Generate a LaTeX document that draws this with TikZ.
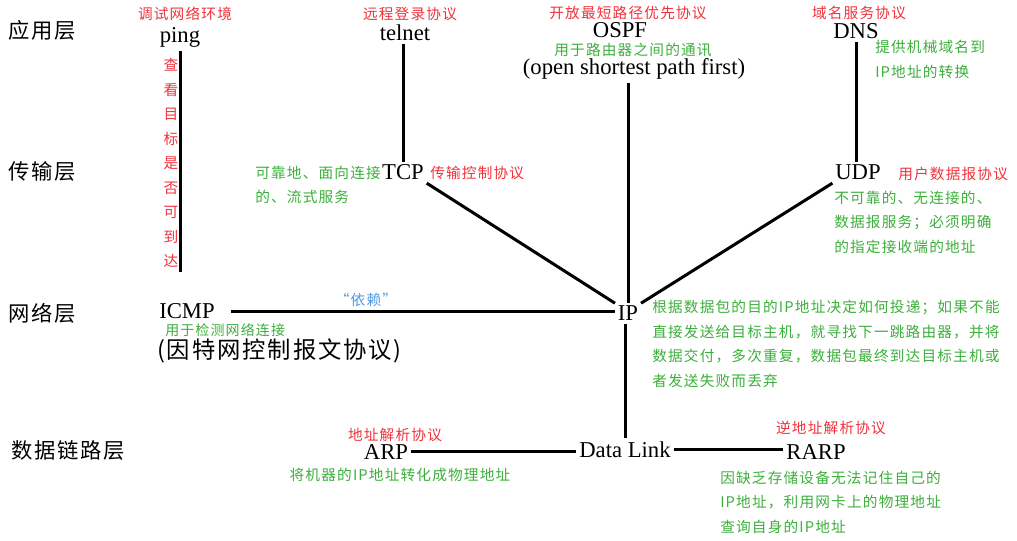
\documentclass[tikz,border=0pt]{standalone}
\usepackage{fontspec}
\setmainfont{Liberation Serif}
\newfontfamily\cjk[LetterSpace=8]{Noto Sans CJK SC}
\usetikzlibrary{calc}
\definecolor{myred}{RGB}{240,50,60}
\definecolor{mygreen}{RGB}{60,175,60}
\definecolor{myblue}{RGB}{80,155,225}
\tikzset{
  proto/.style={font=\fontsize{17}{20}\selectfont, inner sep=2pt, anchor=base},
  redlbl/.style={text=myred, font=\cjk\fontsize{11}{18.4}\selectfont, inner sep=0pt},
  greenlbl/.style={text=mygreen, font=\cjk\fontsize{11}{18.4}\selectfont, inner sep=0pt},
  greenpar/.style={greenlbl, align=left, anchor=west},
  layer/.style={font=\cjk\fontsize{16}{18}\selectfont, inner sep=0pt},
  link/.style={line width=2.25pt}
}
\begin{document}
\begin{tikzpicture}[x=0.75pt,y=-0.75pt]
\useasboundingbox (0,0) rectangle (1017,541);
% layers
\node[layer] (l1) at (42,30) {应用层};
\node[layer] (l2) at (42,171) {传输层};
\node[layer] (l3) at (42,313) {网络层};
\node[layer] (l4) at (68,450) {数据链路层};
% protocols
\node[proto] (ping) at (180,43) {ping};
\node[proto] (telnet) at (405,41) {telnet};
\node[proto, inner ysep=0pt] (ospf) at (620,38) {OSPF};
\node[proto] (ospfsub) at (634,75) {(open shortest path first)};
\node[proto] (dns) at (856,39) {DNS};
\node[proto] (tcp) at (403,180) {TCP};
\node[proto] (udp) at (858,180) {UDP};
\node[proto, inner ysep=0pt] (icmp) at (187,319) {ICMP};
\node[proto] (ip) at (628,321) {IP};
\node[proto] (dl) at (625,457) {Data Link};
\node[proto] (arp) at (386,459) {ARP};
\node[proto] (rarp) at (816,459) {RARP};
\node[font=\cjk\fontsize{17.5}{20}\selectfont, anchor=west, inner sep=0pt] (icmpcn) at (157,351) {(因特网控制报文协议)};
% red labels
\node[redlbl] (r1) at (185,14) {调试网络环境};
\node[redlbl] (r2) at (410,14) {远程登录协议};
\node[redlbl] (r3) at (628,13) {开放最短路径优先协议};
\node[redlbl] (r4) at (859,13) {域名服务协议};
\node[redlbl, anchor=west] (r5) at (430,173) {传输控制协议};
\node[redlbl, anchor=west] (r6) at (898,174) {用户数据报协议};
\node[redlbl] (r7) at (395,435) {地址解析协议};
\node[redlbl] (r8) at (831,428) {逆地址解析协议};
\node[redlbl, align=center] (r9) at (171,163) {查\\看\\目\\标\\是\\否\\可\\到\\达};
% green labels
\node[greenlbl] (g1) at (633,50) {用于路由器之间的通讯};
\node[greenpar] (g2) at (875,59.5) {提供机械域名到\\IP地址的转换};
\node[greenpar] (g3) at (255,185) {可靠地、面向连接\\的、流式服务};
\node[greenpar] (g4) at (834,222) {不可靠的、无连接的、\\数据报服务；必须明确\\的指定接收端的地址};
\node[greenpar, font=\cjk\fontsize{10.5}{18.4}\selectfont] (g5) at (165,330.5) {用于检测网络连接};
\node[greenpar] (g6) at (652,344) {根据数据包的目的IP地址决定如何投递；如果不能\\直接发送给目标主机，就寻找下一跳路由器，并将\\数据交付，多次重复，数据包最终到达目标主机或\\者发送失败而丢弃};
\node[greenlbl] (g7) at (400,475) {将机器的IP地址转化成物理地址};
\node[greenpar] (g8) at (720,502) {因缺乏存储设备无法记住自己的\\IP地址，利用网卡上的物理地址\\查询自身的IP地址};
% blue
\node[text=myblue, font=\cjk\fontsize{11}{13}\selectfont, inner sep=0pt] (dep) at (366,300) {“依赖”};
% connectors
\draw[link] (ping.south) -- ($(ping.south |- icmp.north)+(0,-32)$);
\draw[link] (tcp.north |- telnet.south) -- (tcp.north);
\draw[link] (ip.north |- ospfsub.south) -- (ip.north);
\draw[link] (dns.south) -- (dns.south |- udp.north);
\draw[link] (tcp.south east) -- (ip.north west);
\draw[link] (udp.south west) -- (ip.north east);
\draw[link] ([xshift=10pt]icmp.east) -- (ip.west |- icmp.east);
\draw[link] (dl.north |- ip.south) -- (dl.north);
\draw[link] (arp.east) -- (arp.east -| dl.west);
\draw[link] (dl.east) -- (dl.east -| rarp.west);
\end{tikzpicture}
\end{document}
